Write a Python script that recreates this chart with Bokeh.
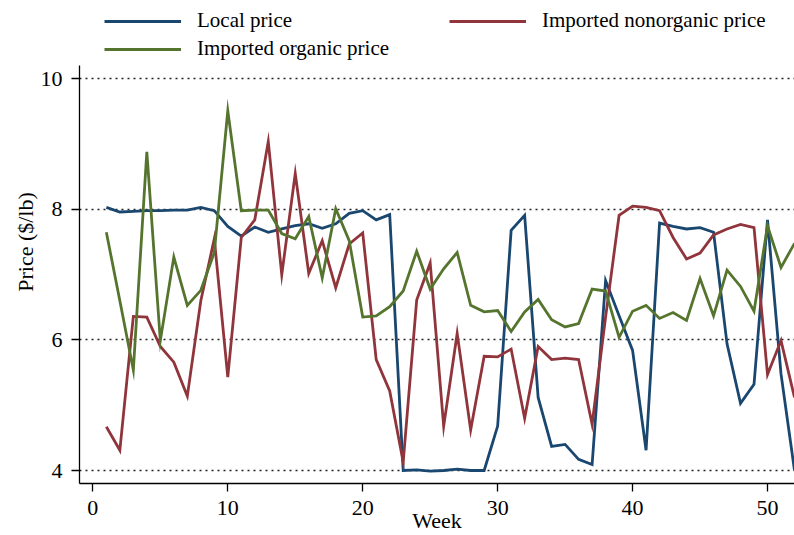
from bokeh.plotting import figure
from bokeh.models import Legend, LegendItem, FixedTicker, Range1d
from bokeh.embed import file_html
from bokeh.resources import INLINE

weeks = list(range(1, 53))
local_price = [8.03, 7.96, 7.97, 7.98, 7.98, 7.99, 7.99, 8.03, 7.98, 7.74,
               7.59, 7.73, 7.65, 7.70, 7.75, 7.78, 7.71, 7.78, 7.94, 7.98,
               7.84, 7.92, 4.00, 4.01, 3.99, 4.00, 4.02, 4.00, 4.00, 4.68,
               7.68, 7.91, 5.12, 4.37, 4.40, 4.17, 4.09, 6.91, 6.37, 5.84,
               4.31, 7.79, 7.74, 7.70, 7.72, 7.65, 5.94, 5.03, 5.32, 7.84,
               5.48, 4.00]
nonorganic_price = [4.67, 4.31, 6.36, 6.35, 5.90, 5.66, 5.14, 6.60, 7.55, 5.43,
                    7.57, 7.84, 9.04, 7.00, 8.55, 7.02, 7.52, 6.80, 7.47, 7.64,
                    5.70, 5.22, 4.13, 6.61, 7.18, 4.68, 6.10, 4.62, 5.75, 5.74,
                    5.86, 4.80, 5.90, 5.70, 5.72, 5.70, 4.71, 6.35, 7.91, 8.05,
                    8.03, 7.98, 7.57, 7.24, 7.33, 7.61, 7.70, 7.77, 7.72, 5.47,
                    5.99, 5.12]
organic_price = [7.65, 6.60, 5.54, 8.88, 5.99, 7.27, 6.53, 6.76, 7.34, 9.51,
                 7.98, 7.99, 7.99, 7.63, 7.55, 7.89, 6.95, 8.01, 7.52, 6.35,
                 6.37, 6.51, 6.75, 7.36, 6.78, 7.09, 7.34, 6.53, 6.43, 6.45,
                 6.13, 6.43, 6.62, 6.31, 6.20, 6.25, 6.78, 6.75, 6.04, 6.44,
                 6.53, 6.33, 6.42, 6.30, 6.94, 6.37, 7.07, 6.82, 6.44, 7.75,
                 7.11, 7.48]
x_ticks = [0, 10, 20, 30, 40, 50]
y_ticks = [4, 6, 8, 10]
series_names = ["Local price", "Imported nonorganic price", "Imported organic price"]
colors = ["#1a476f", "#90353b", "#55752f"]

FONT = "Liberation Serif"
FS = "22px"

p = figure(width=794, height=535, output_backend="svg", toolbar_location=None,
           x_range=Range1d(-0.99, 52.0), y_range=Range1d(3.801, 11.2),
           min_border_left=79, min_border_right=0, min_border_top=0,
           min_border_bottom=52)
p.outline_line_color = None
p.background_fill_color = "white"
p.border_fill_color = "white"

renderers = []
for ys, c in zip([local_price, nonorganic_price, organic_price], colors):
    r = p.line(weeks, ys, line_color=c, line_width=2.8, line_join="miter")
    renderers.append(r)

# axes
p.xaxis.ticker = FixedTicker(ticks=x_ticks)
p.yaxis.ticker = FixedTicker(ticks=y_ticks)
p.yaxis.bounds = (3.801, 10.204)
for ax in (p.xaxis[0], p.yaxis[0]):
    ax.axis_line_color = "black"
    ax.axis_line_width = 1.3
    ax.major_tick_line_color = "black"
    ax.major_tick_line_width = 1.3
    ax.major_tick_out = 8
    ax.major_tick_in = 0
    ax.minor_tick_out = 0
    ax.minor_tick_in = 0
    ax.major_label_text_font = FONT
    ax.major_label_text_font_size = FS
    ax.major_label_text_color = "black"
    ax.axis_label_text_font = FONT
    ax.axis_label_text_font_size = FS
    ax.axis_label_text_font_style = "normal"
    ax.axis_label_text_color = "black"
p.xaxis.major_label_standoff = 9
p.yaxis.major_label_standoff = 9
p.yaxis.axis_label = "Price ($/lb)"
p.yaxis.axis_label_standoff = 0
p.xaxis.axis_label = "Week"
p.xaxis.axis_label_standoff = -10

p.xgrid.visible = False
p.ygrid.ticker = FixedTicker(ticks=y_ticks)
p.ygrid.grid_line_color = "#222222"
p.ygrid.grid_line_width = 1.4
p.ygrid.grid_line_dash = "2 4"

# legend laid out row by row (Bokeh fills columns first)
order = [0, 2, 1]
items = [LegendItem(label=series_names[i], renderers=[renderers[i]]) for i in order]
legend = Legend(items=items, ncols=2, location=(25, 422),
                glyph_width=77, glyph_height=24, label_height=24, label_width=249,
                label_standoff=16, spacing=3, padding=0, margin=0,
                label_text_font=FONT, label_text_font_size="21px", label_text_color="black",
                border_line_color=None, background_fill_alpha=0)
p.add_layout(legend)

open("out.html", "w").write(file_html(p, INLINE))
